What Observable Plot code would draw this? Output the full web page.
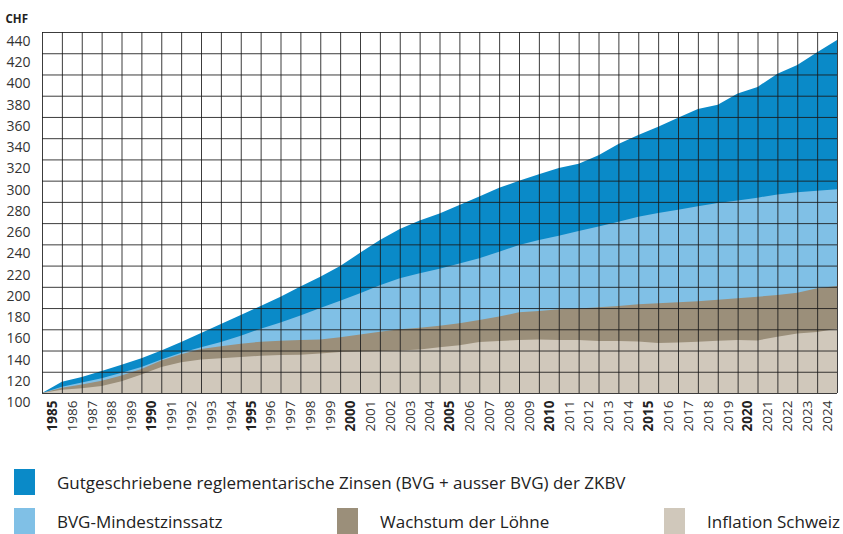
<!DOCTYPE html>
<html>
<head>
<meta charset="utf-8">
<script src="https://cdn.jsdelivr.net/npm/d3@7"></script>
<script src="https://cdn.jsdelivr.net/npm/@observablehq/plot@0.6"></script>
<style>
  html, body { margin: 0; padding: 0; background: #fff; }
  #wrap { position: relative; width: 843px; height: 534px; overflow: hidden; font-family: "Open Sans", "Noto Sans", sans-serif; }
  #chart { position: absolute; left: 0; top: 0; }
  .leg { position: absolute; display: flex; align-items: center; color: #222; font-size: 17px; white-space: nowrap; }
  .sw { width: 21px; height: 26px; margin-right: 22px; flex: none; }
</style>
</head>
<body>
<div id="wrap">
  <div id="chart"></div>
  <div id="legend"></div>
</div>
<script>
// Year labels (one cell per year)
const years = [1985,1986,1987,1988,1989,1990,1991,1992,1993,1994,1995,1996,1997,1998,1999,2000,2001,2002,2003,2004,2005,2006,2007,2008,2009,2010,2011,2012,2013,2014,2015,2016,2017,2018,2019,2020,2021,2022,2023,2024];
const yTicks = [100,120,140,160,180,200,220,240,260,280,300,320,340,360,380,400,420,440];

// Index values (start 1985 = 100, then each year end)
const zkbv = [100,110.5,115,120.7,126.5,132.8,140,148,156.5,165,173.4,182,190.7,200.3,209.5,219.6,232,244,254.5,262.5,269,277,285,293.2,300,306,312,316,324,334.5,343,350.8,359.3,367.5,371.5,382,388.3,400.7,409,421,432.4];
const bvg = [100,106,110,114,119,124.5,131.5,138,143,148,154,160.5,166.5,173,180,187,194,201.5,208,212.7,217,222,227,233,239.4,244,248,252.6,256.8,261.3,266,269.5,272.5,276,279,281.3,284,287,289,290.5,291.8];
const loehne = [100,105,108,111.5,116.5,122.5,130.5,136.5,141.5,144,146.5,148.3,149.3,150,150.5,152.4,155.2,157.7,160,161.5,163.4,165.6,168.7,172,176,177.2,178.8,179.7,180.7,182,183.5,184.5,185.5,186.5,187.8,189.3,190.7,192.3,194.5,198.6,200.8];
const inflation = [100,103,104.5,106.5,111,117.5,124.5,129,131.5,132.8,134,135,135.7,136,137.2,138.7,139,139.5,140,141,143,145,148,149,150,150.5,150,150,149,149,148.5,147,147.5,148.3,149.3,150,149.5,153,156,157.5,160.5];

const seriesNames = ["Gutgeschriebene reglementarische Zinsen (BVG + ausser BVG) der ZKBV", "BVG-Mindestzinssatz", "Wachstum der Löhne", "Inflation Schweiz"];
const colors = ["#0a8ac8", "#80c0e6", "#9b8f7a", "#d0c8bb"];

const pts = (arr) => arr.map((v, i) => ({t: i, v}));
const boundaries = d3.range(years.length + 1);
const yearCells = years.map((y, i) => ({t: i + 0.5, label: String(y), bold: y % 5 === 0}));

const fontTick = "'Open Sans', 'Noto Sans', sans-serif";

const chart = Plot.plot({
  width: 843,
  height: 440,
  marginLeft: 42,
  marginRight: 6,
  marginTop: 32,
  marginBottom: 47,
  x: {domain: [0, years.length], axis: null},
  y: {domain: [100, 440], axis: null},
  style: {fontFamily: fontTick, background: "#fff"},
  marks: [
    Plot.areaY(pts(zkbv), {x: "t", y1: 100, y2: "v", fill: colors[0]}),
    Plot.areaY(pts(bvg), {x: "t", y1: 100, y2: "v", fill: colors[1]}),
    Plot.areaY(pts(loehne), {x: "t", y1: 100, y2: "v", fill: colors[2]}),
    Plot.areaY(pts(inflation), {x: "t", y1: 100, y2: "v", fill: colors[3]}),
    Plot.ruleX(boundaries, {x: d => d, stroke: "#1a1a1a", strokeWidth: 1, strokeOpacity: 0.85}),
    Plot.ruleY(yTicks, {y: d => d, stroke: "#1a1a1a", strokeWidth: 1, strokeOpacity: 0.85}),
    Plot.axisY(yTicks, {tickSize: 0, tickPadding: 12, dy: 9, fontSize: 14, fill: "#333", label: null, tickFormat: d => String(d)}),
    Plot.text(yearCells.filter(d => !d.bold), {x: "t", y: 100, text: "label", rotate: -90, textAnchor: "end", lineAnchor: "middle", dy: 7, fontSize: 13.5, fill: "#333"}),
    Plot.text(yearCells.filter(d => d.bold), {x: "t", y: 100, text: "label", rotate: -90, textAnchor: "end", lineAnchor: "middle", dy: 7, fontSize: 13.5, fontWeight: "bold", fill: "#222"}),
    Plot.text(["CHF"], {frameAnchor: "top-left", dx: -37, dy: -18, textAnchor: "start", fontSize: 11.5, fontWeight: "bold", fill: "#222"})
  ]
});
document.getElementById("chart").appendChild(chart);

// Legend
const legendPos = [
  {i: 0, left: 14, top: 469},
  {i: 1, left: 14, top: 508},
  {i: 2, left: 337, top: 508},
  {i: 3, left: 664, top: 508}
];
const legend = document.getElementById("legend");
legendPos.forEach(p => {
  const div = document.createElement("div");
  div.className = "leg";
  div.style.left = p.left + "px";
  div.style.top = p.top + "px";
  const sw = document.createElement("div");
  sw.className = "sw";
  sw.style.background = colors[p.i];
  const tx = document.createElement("span");
  tx.textContent = seriesNames[p.i];
  div.appendChild(sw);
  div.appendChild(tx);
  legend.appendChild(div);
});
</script>
</body>
</html>
